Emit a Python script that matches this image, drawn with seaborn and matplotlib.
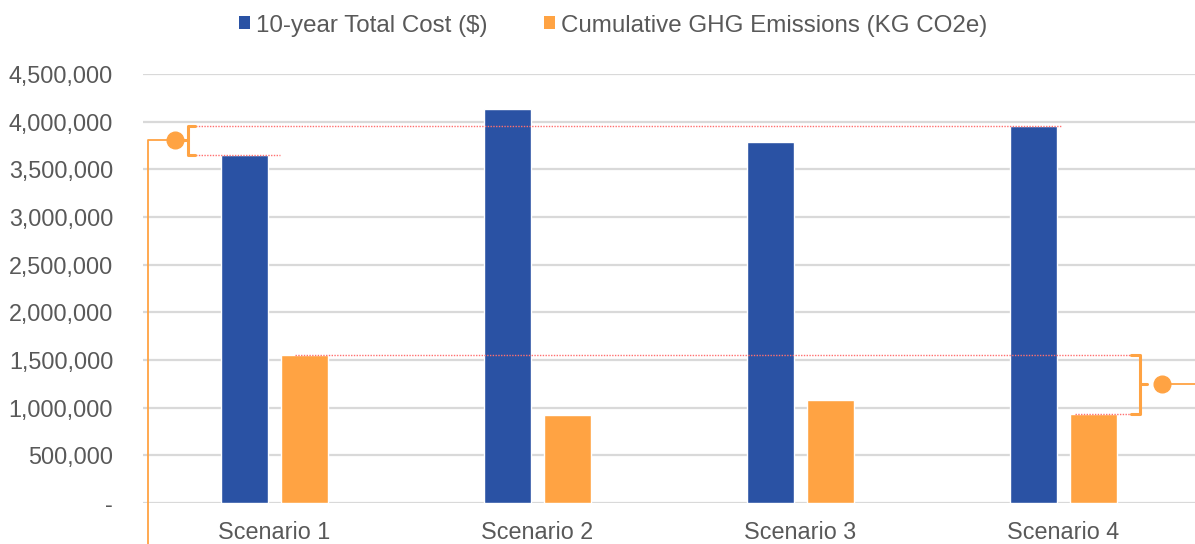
import matplotlib
matplotlib.use("Agg")
import matplotlib.pyplot as plt
import seaborn as sns
import pandas as pd
from matplotlib.patches import Patch
from matplotlib.ticker import FuncFormatter

scenarios = ["Scenario 1", "Scenario 2", "Scenario 3", "Scenario 4"]
total_cost = [3655000, 4130000, 3785000, 3958000]
ghg = [1555000, 918000, 1078000, 938000]
series_names = ["10-year Total Cost ($)", "Cumulative GHG Emissions (KG CO2e)"]
y_ticks = [0, 500000, 1000000, 1500000, 2000000, 2500000, 3000000, 3500000, 4000000, 4500000]

BLUE = "#2A52A4"
ORANGE = "#FFA343"
TEXT = "#595959"
GRID = "#D9D9D9"
RED = "#FF7070"

df = pd.DataFrame({
    "Scenario": scenarios * 2,
    "Series": [series_names[0]] * 4 + [series_names[1]] * 4,
    "Value": total_cost + ghg,
})

sns.set_theme(style="white")
plt.rcParams["font.family"] = ["Liberation Sans", "DejaVu Sans"]

fig = plt.figure(figsize=(11.95, 5.44), dpi=100)
ax = fig.add_axes([143 / 1195, 41 / 544, 1052 / 1195, 429 / 544])

sns.barplot(data=df, x="Scenario", y="Value", hue="Series",
            palette=[BLUE, ORANGE], saturation=1, width=0.456, gap=0.215,
            ax=ax, legend=False, zorder=3)

ax.set_xlim(-0.5, 3.5)
ax.set_ylim(0, 4500000)
ax.set_yticks(y_ticks)
ax.yaxis.set_major_formatter(FuncFormatter(lambda v, p: "-" if v == 0 else f"{int(v):,}"))
ax.grid(axis="y", color=GRID, linewidth=1.6, zorder=0)
ax.set_axisbelow(True)
for s in ax.spines.values():
    s.set_visible(False)
ax.set_xlabel("")
ax.set_ylabel("")
ax.tick_params(axis="x", length=0, labelsize=16.8, labelcolor=TEXT, pad=13)
ax.tick_params(axis="y", length=0, labelsize=16.8, labelcolor=TEXT, pad=21.5)

# Annotation lines (red dotted) at the compared values
lw_red = 1.0
ax.plot([-0.32, 0.02], [total_cost[0]] * 2, color=RED, lw=lw_red, ls=(0, (1, 1)), zorder=4, clip_on=False)
ax.plot([-0.32, 2.994], [total_cost[3]] * 2, color=RED, lw=lw_red, ls=(0, (1, 1)), zorder=4, clip_on=False)
ax.plot([0.078, 3.253], [ghg[0]] * 2, color=RED, lw=lw_red, ls=(0, (1, 1)), zorder=4, clip_on=False)
ax.plot([3.043, 3.253], [ghg[3]] * 2, color=RED, lw=lw_red, ls=(0, (1, 1)), zorder=4, clip_on=False)

# Left bracket (cost difference)
lo, hi = total_cost[0], total_cost[3]
mid = (lo + hi) / 2
bx = -0.329
ax.plot([bx + 0.025, bx, bx, bx + 0.025], [hi, hi, lo, lo], color=ORANGE, lw=2.2, zorder=5,
        clip_on=False)
ax.plot([bx, bx - 0.02], [mid, mid], color=ORANGE, lw=2.2, zorder=5, clip_on=False)
ax.plot([-0.378, -0.481, -0.481], [mid, mid, -600000], color=ORANGE, lw=1.3,
        zorder=5, clip_on=False)
ax.plot([-0.378], [mid], marker="o", ms=12, color=ORANGE, zorder=6, clip_on=False)

# Right bracket (GHG difference)
lo2, hi2 = ghg[3], ghg[0]
mid2 = (lo2 + hi2) / 2
bx2 = 3.291
ax.plot([bx2 - 0.035, bx2, bx2, bx2 - 0.035], [hi2, hi2, lo2, lo2], color=ORANGE, lw=2.2, zorder=5,
        clip_on=False)
ax.plot([bx2, bx2 + 0.025], [mid2, mid2], color=ORANGE, lw=2.2, zorder=5, clip_on=False)
ax.plot([3.374, 3.52], [mid2, mid2], color=ORANGE, lw=1.3, zorder=5, clip_on=False)
ax.plot([3.374], [mid2], marker="o", ms=12, color=ORANGE, zorder=6, clip_on=False)

handles = [Patch(facecolor=BLUE, edgecolor="none"), Patch(facecolor=ORANGE, edgecolor="none")]
fig.legend(handles, series_names, loc="center", bbox_to_anchor=(0.513, 0.953), ncol=2,
           frameon=False, fontsize=17.4, labelcolor=TEXT, handlelength=0.45, handleheight=0.45,
           handletextpad=0.25, columnspacing=2.36)

fig.savefig("out.png", dpi=100)
